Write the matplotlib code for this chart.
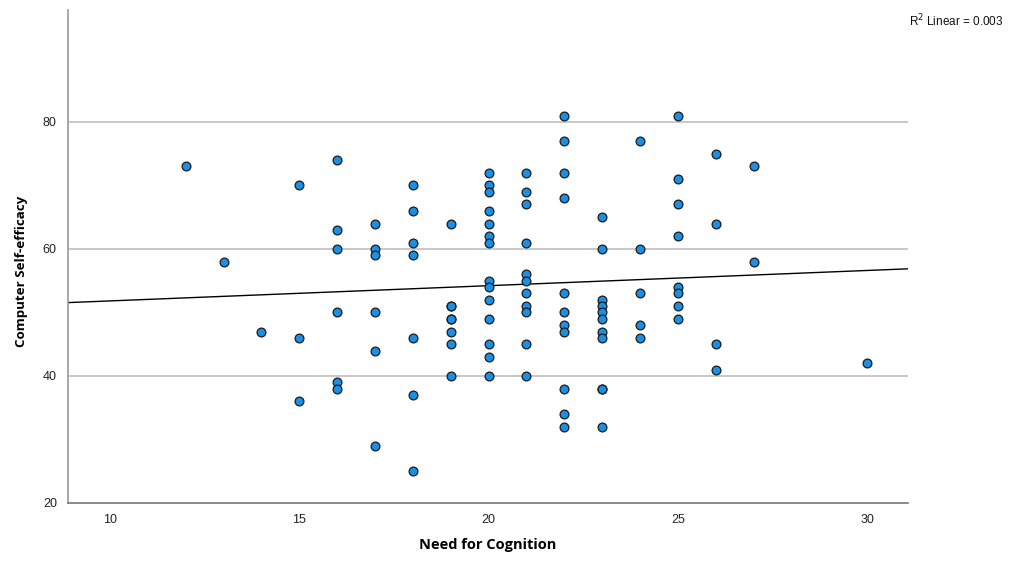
import numpy as np
import matplotlib
matplotlib.use("Agg")
import matplotlib.pyplot as plt

# Need for Cognition (x) and Computer Self-efficacy (y)
nfc = [12, 13, 14,
       15, 15, 15,
       16, 16, 16, 16, 16, 16,
       17, 17, 17, 17, 17, 17,
       18, 18, 18, 18, 18, 18, 18,
       19, 19, 19, 19, 19, 19, 19, 19,
       20, 20, 20, 20, 20, 20, 20, 20, 20, 20, 20, 20, 20, 20,
       21, 21, 21, 21, 21, 21, 21, 21, 21, 21, 21,
       22, 22, 22, 22, 22, 22, 22, 22, 22, 22, 22,
       23, 23, 23, 23, 23, 23, 23, 23, 23, 23, 23,
       24, 24, 24, 24, 24,
       25, 25, 25, 25, 25, 25, 25, 25,
       26, 26, 26, 26,
       27, 27,
       30]
cse = [73, 58, 47,
       70, 46, 36,
       74, 63, 60, 50, 39, 38,
       64, 60, 59, 50, 44, 29,
       70, 66, 61, 59, 46, 37, 25,
       64, 51, 51, 49, 49, 47, 45, 40,
       72, 70, 69, 66, 64, 62, 61, 55, 54, 52, 49, 45, 43, 40,
       72, 69, 67, 61, 56, 55, 53, 51, 50, 45, 40,
       81, 77, 72, 68, 53, 50, 48, 47, 38, 34, 32,
       65, 60, 52, 51, 50, 49, 47, 46, 38, 38, 32,
       77, 60, 53, 48, 46,
       81, 71, 67, 62, 54, 53, 51, 49,
       75, 64, 45, 41,
       73, 58,
       42]
r2_text = "Linear = 0.003"
x_ticks = [10, 15, 20, 25, 30]
y_ticks = [20, 40, 60, 80]

x = np.array(nfc, dtype=float)
y = np.array(cse, dtype=float)
slope, intercept = np.polyfit(x, y, 1)

fig = plt.figure(figsize=(10.13, 5.62), dpi=100)
ax = fig.add_axes([0.0671, 0.105, 0.8292, 0.877])

xmin, xmax = 8.89, 31.08
ax.set_xlim(xmin, xmax)
ax.set_ylim(20, 97.6)

for t in y_ticks[1:]:
    ax.axhline(t, color="#c8c8c8", lw=1.4, zorder=0)

xl = np.array([xmin, xmax])
ax.plot(xl, intercept + slope * xl, color="black", lw=1.0, zorder=2)

ax.scatter(x, y, s=40, facecolor="#1b8fe3", edgecolor="#1a1a1a",
           linewidth=0.9, zorder=3)

for side in ["top", "right"]:
    ax.spines[side].set_visible(False)
ax.spines["left"].set_color("#999999")
ax.spines["bottom"].set_color("#777777")
ax.spines["left"].set_linewidth(1.2)
ax.spines["bottom"].set_linewidth(1.2)

ax.set_xticks(x_ticks)
ax.set_yticks(y_ticks)
ax.tick_params(length=0, labelsize=9, colors="#222222", pad=8)
for lab in ax.get_xticklabels() + ax.get_yticklabels():
    lab.set_family("Liberation Sans")

ax.set_xlabel("Need for Cognition", fontsize=10.5, fontweight="bold",
              family="Open Sans")
ax.xaxis.set_label_coords(0.5, -0.072)
ax.set_ylabel("Computer Self-efficacy", fontsize=9.6, fontweight="bold",
              family="Open Sans")
ax.yaxis.set_label_coords(-0.047, 0.47)

fig.text(0.897, 0.962, r"R$^{2}$ " + r2_text, fontsize=8.5,
         family="Liberation Sans", color="#111111", ha="left", va="center")

fig.savefig("out.png", dpi=100)
